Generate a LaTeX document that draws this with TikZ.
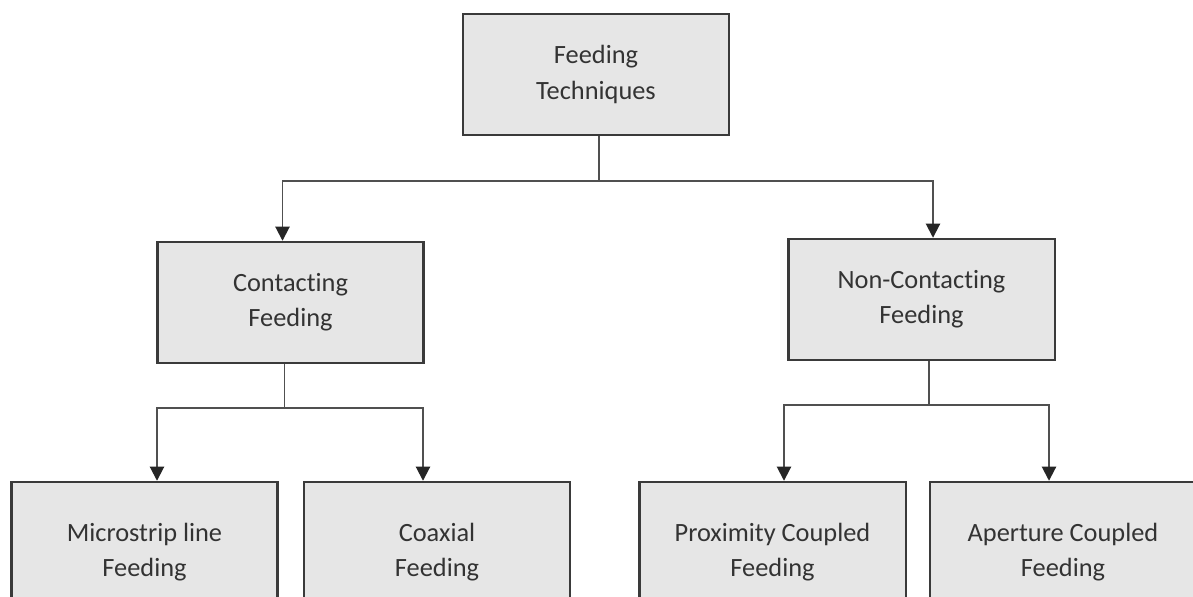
\documentclass[tikz,border=0pt]{standalone}
\usepackage{fontspec}
\setmainfont{Carlito}[Ligatures={NoCommon,NoRare,NoDiscretionary}]
\usepackage{tikz}
\usetikzlibrary{arrows.meta}
\usetikzlibrary{calc}

\definecolor{boxfill}{HTML}{E6E6E6}
\definecolor{boxline}{HTML}{3A3A3A}
\definecolor{wire}{HTML}{505050}
\definecolor{txt}{HTML}{333333}

\tikzset{
	box/.style={draw=boxline, line width=1.4pt, fill=boxfill, text=txt, align=center,
		minimum width=5.33cm, minimum height=2.42cm, inner sep=0pt,
		font=\fontsize{15}{20}\selectfont},
	tree/.style={draw=wire, line width=1.1pt},
	arr/.style={tree, -{Triangle[width=8pt,length=8pt,color=black!85]}}
}

\begin{document}
\begin{tikzpicture}[x=0.02cm, y=-0.02cm]
	\path[use as bounding box, clip] (0,0) rectangle (1193,597);
	% boxes
	\node[box] (ft) at (596,74.5) {Feeding\\Techniques};
	\node[box] (cf) at (290.5,302.5) {Contacting\\Feeding};
	\node[box] (nc) at (921.5,299.5) {Non-Contacting\\Feeding};
	\node[box, minimum height=2.8cm] (ms) at (144.5,552) {Microstrip line\\Feeding};
	\node[box, minimum height=2.8cm] (cx) at (437,552) {Coaxial\\Feeding};
	\node[box, minimum height=2.8cm] (pc) at (772.5,552) {Proximity Coupled\\Feeding};
	\node[box, minimum height=2.8cm] (ac) at (1063,552) {Aperture Coupled\\Feeding};
	% connectors
	\coordinate (ftbar) at ($(ft.south)+(3,45)$);
	\coordinate (cfbar) at ($(cf.south)+(-6,44)$);
	\coordinate (ncbar) at ($(nc.south)+(7.5,44)$);
	\draw[tree] (ft.south -| ftbar) -- (ftbar);
	\draw[arr] (ftbar) -| ($(cf.north)+(-8,0)$);
	\draw[arr] (ftbar) -| ($(nc.north)+(11.5,0)$);
	\draw[tree] (cf.south -| cfbar) -- (cfbar);
	\draw[arr] (cfbar) -| ($(ms.north)+(12.5,0)$);
	\draw[arr] (cfbar) -| ($(cx.north)+(-14,0)$);
	\draw[tree] (nc.south -| ncbar) -- (ncbar);
	\draw[arr] (ncbar) -| ($(pc.north)+(11.5,0)$);
	\draw[arr] (ncbar) -| ($(ac.north)+(-14,0)$);
\end{tikzpicture}
\end{document}
